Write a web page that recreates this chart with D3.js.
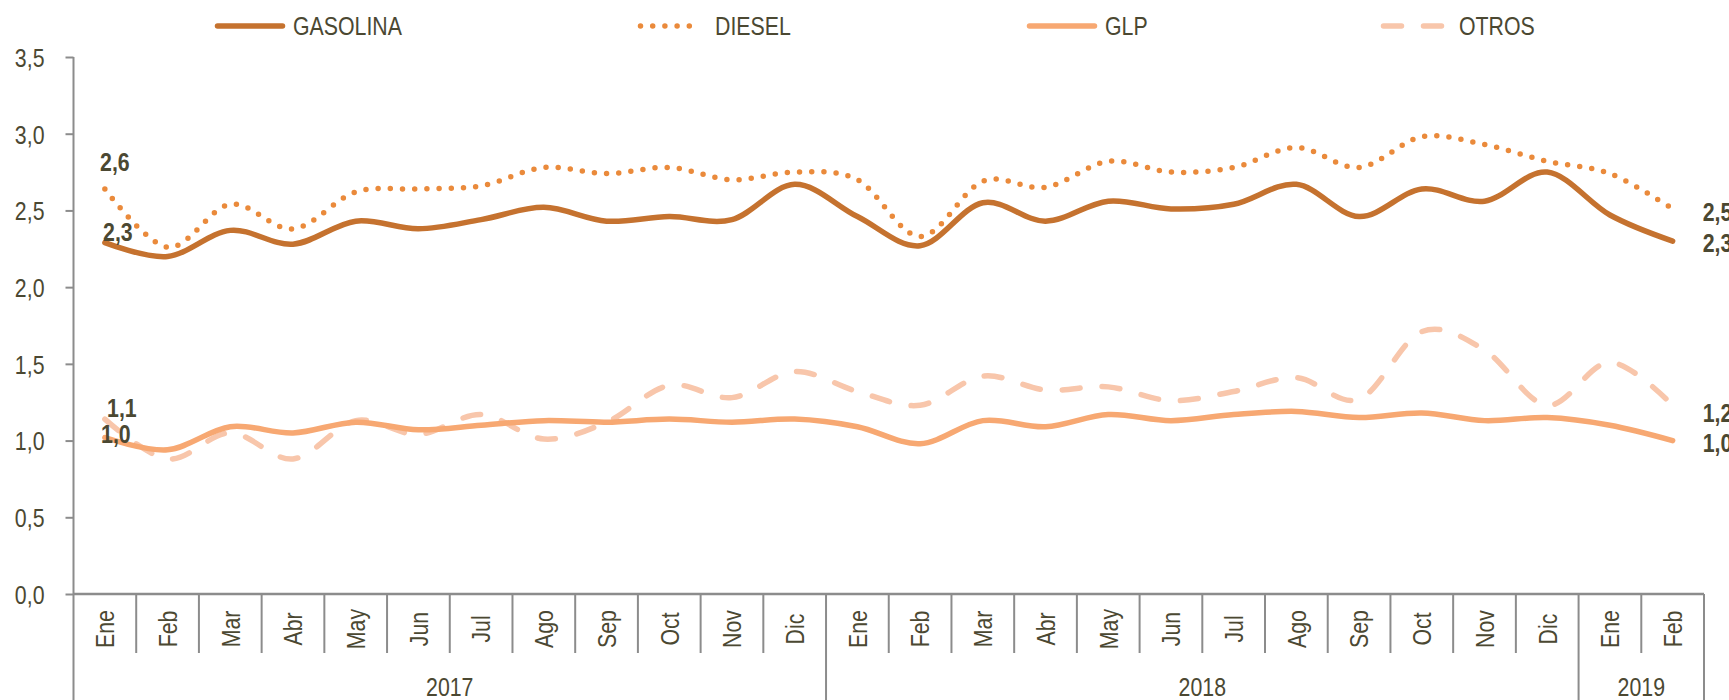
<!DOCTYPE html>
<html>
<head>
<meta charset="utf-8">
<script src="https://cdn.jsdelivr.net/npm/d3@7/dist/d3.min.js"></script>
<style>
body { margin: 0; background: #fff; }
text { font-family: "Liberation Sans Narrow", "Arial Narrow", "Liberation Sans", Arial, sans-serif; fill: #4b4832; }
</style>
</head>
<body>
<svg id="chart" width="1729" height="700"></svg>
<script>
// categories
var months = ["Ene","Feb","Mar","Abr","May","Jun","Jul","Ago","Sep","Oct","Nov","Dic",
              "Ene","Feb","Mar","Abr","May","Jun","Jul","Ago","Sep","Oct","Nov","Dic",
              "Ene","Feb"];
var years = ["2017","2018","2019"];
var yearMonths = [12, 12, 2];

// series values
var gasolina = [2.29,2.20,2.37,2.28,2.43,2.38,2.44,2.52,2.43,2.46,2.44,2.67,2.46,2.27,2.55,2.43,2.56,2.51,2.54,2.67,2.46,2.64,2.56,2.75,2.47,2.30];
var diesel   = [2.64,2.26,2.54,2.38,2.62,2.64,2.66,2.78,2.74,2.78,2.70,2.75,2.70,2.33,2.69,2.65,2.82,2.75,2.78,2.91,2.78,2.98,2.93,2.82,2.74,2.51];
var glp      = [1.02,0.94,1.09,1.05,1.12,1.07,1.10,1.13,1.12,1.14,1.12,1.14,1.09,0.98,1.13,1.09,1.17,1.13,1.17,1.19,1.15,1.18,1.13,1.15,1.10,1.00];
var otros    = [1.14,0.88,1.05,0.88,1.13,1.04,1.17,1.01,1.12,1.36,1.28,1.45,1.32,1.23,1.42,1.33,1.35,1.26,1.32,1.41,1.27,1.71,1.59,1.23,1.51,1.23];

// y ticks
var yTicks = [0, 0.5, 1, 1.5, 2, 2.5, 3, 3.5];

var svg = d3.select("#chart");
var mLeft = 73.5, mRight = 1704, mTop = 57, mBottom = 594;
var axisColor = "#8c8c8c";
var squeeze = 0.82; // no narrow font installed, so squeeze Liberation Sans like Arial Narrow

var keys = months.map(function(m, i){ return i; });
var x = d3.scaleBand().domain(keys).range([mLeft, mRight]);
var y = d3.scaleLinear().domain([0, 3.5]).range([mBottom, mTop]);
var cx = function(i){ return x(i) + x.bandwidth() / 2; };

var fmt = function(v){ return d3.format(".1f")(v).replace(".", ","); };

// put a text at (px,py) squeezed horizontally
function narrowText(sel, px, py){
  return sel.attr("x", 0).attr("y", 0)
    .attr("transform", "translate(" + px + "," + py + ") scale(" + squeeze + ",1)");
}

// series definitions
var series = [
  {name: "GASOLINA", values: gasolina, color: "#c5722f", width: 5.5, dash: null},
  {name: "DIESEL",   values: diesel,   color: "#ea8a3b", width: 5.5, dash: "0 12.2"},
  {name: "GLP",      values: glp,      color: "#f7a872", width: 5.5, dash: null},
  {name: "OTROS",    values: otros,    color: "#f8c6ab", width: 5.5, dash: "18 22"}
];

// y axis
var yAxis = d3.axisLeft(y).tickValues(yTicks).tickSize(8).tickPadding(21).tickFormat(fmt);
var gy = svg.append("g").attr("transform", "translate(" + mLeft + ",0)").call(yAxis);
gy.select(".domain").remove();
gy.selectAll("line").attr("stroke", axisColor).attr("stroke-width", 2);
gy.selectAll("text")
  .attr("dy", null)
  .attr("dominant-baseline", "central")
  .style("font-size", "26px").attr("fill", "#4b4832")
  .each(function(){ narrowText(d3.select(this), -29, 0); });

svg.append("line")
  .attr("x1", mLeft).attr("x2", mLeft).attr("y1", y(3.5)).attr("y2", 700)
  .attr("stroke", axisColor).attr("stroke-width", 2);

// x axis
svg.append("line")
  .attr("x1", mLeft).attr("x2", mRight).attr("y1", mBottom).attr("y2", mBottom)
  .attr("stroke", axisColor).attr("stroke-width", 2.5);

// month separators
var yearStarts = [];
var acc = 0;
yearMonths.forEach(function(n){ yearStarts.push(acc); acc += n; });
svg.selectAll(".msep")
  .data(keys.slice(1))
  .enter().append("line")
  .attr("x1", function(d){ return x(d); })
  .attr("x2", function(d){ return x(d); })
  .attr("y1", mBottom)
  .attr("y2", function(d){ return yearStarts.indexOf(d) >= 0 ? 700 : 653; })
  .attr("stroke", axisColor).attr("stroke-width", 2);
svg.append("line")
  .attr("x1", mRight).attr("x2", mRight).attr("y1", mBottom).attr("y2", 700)
  .attr("stroke", axisColor).attr("stroke-width", 2);

var xAxis = d3.axisBottom(x).tickSize(0).tickFormat(function(d){ return months[d]; });
var gx = svg.append("g").attr("transform", "translate(0," + mBottom + ")").call(xAxis);
gx.select(".domain").remove();
gx.selectAll(".tick text")
  .attr("x", 0).attr("y", 0).attr("dy", null)
  .attr("transform", "translate(0,35) rotate(-90) scale(" + squeeze + ",1)")
  .attr("text-anchor", "middle")
  .attr("dominant-baseline", "central")
  .style("font-size", "26px").attr("fill", "#4b4832");

// year labels
svg.selectAll(".year")
  .data(years)
  .enter().append("text")
  .attr("text-anchor", "middle")
  .attr("dominant-baseline", "central")
  .style("font-size", "26px")
  .text(function(d){ return d; })
  .each(function(d, i){
    var s = yearStarts[i], e = s + yearMonths[i] - 1;
    narrowText(d3.select(this), (x(s) + x(e) + x.bandwidth()) / 2, 687);
  });

// lines
var line = d3.line()
  .x(function(d, i){ return cx(i); })
  .y(function(d){ return y(d); })
  .curve(d3.curveCardinal.tension(0));

svg.selectAll(".series")
  .data(series.slice().reverse())
  .enter().append("path")
  .attr("d", function(s){ return line(s.values); })
  .attr("fill", "none")
  .attr("stroke", function(s){ return s.color; })
  .attr("stroke-width", function(s){ return s.width; })
  .attr("stroke-linecap", "round")
  .attr("stroke-linejoin", "round")
  .attr("stroke-dasharray", function(s){ return s.dash; });

// data labels at first and last points
var firstOffsets = {GASOLINA: [13, -11], DIESEL: [10, -27], GLP: [11, -4], OTROS: [17, -11]};
var lastOffsets = {GASOLINA: [30, 2], DIESEL: [30, 3], GLP: [30, 2], OTROS: [30, 7]};
var last = months.length - 1;
series.forEach(function(s){
  var o = firstOffsets[s.name];
  svg.append("text")
    .attr("text-anchor", "middle").attr("dominant-baseline", "central")
    .style("font-size", "26px").style("font-weight", "bold")
    .text(fmt(s.values[0]))
    .call(narrowText, cx(0) + o[0], y(s.values[0]) + o[1]);
  var p = lastOffsets[s.name];
  svg.append("text")
    .attr("text-anchor", "start").attr("dominant-baseline", "central")
    .style("font-size", "26px").style("font-weight", "bold")
    .text(fmt(s.values[last]))
    .call(narrowText, cx(last) + p[0], y(s.values[last]) + p[1]);
});

// legend
var legendX = [215, 638, 1027, 1381];
var legendY = 26;
var lg = svg.selectAll(".legend")
  .data(series)
  .enter().append("g")
  .attr("transform", function(d, i){ return "translate(" + legendX[i] + "," + legendY + ")"; });
lg.append("line")
  .attr("x1", 2.5).attr("x2", function(d){ return d.name === "DIESEL" ? 62 : 67.5; })
  .attr("y1", 0).attr("y2", 0)
  .attr("stroke", function(d){ return d.color; })
  .attr("stroke-width", 5.5)
  .attr("stroke-linecap", "round")
  .attr("stroke-dasharray", function(d){ return d.dash; });
lg.append("text")
  .attr("dominant-baseline", "central")
  .style("font-size", "26px")
  .text(function(d){ return d.name; })
  .each(function(d){ narrowText(d3.select(this), d.name === "DIESEL" ? 77 : 78, 0); });
</script>
</body>
</html>
